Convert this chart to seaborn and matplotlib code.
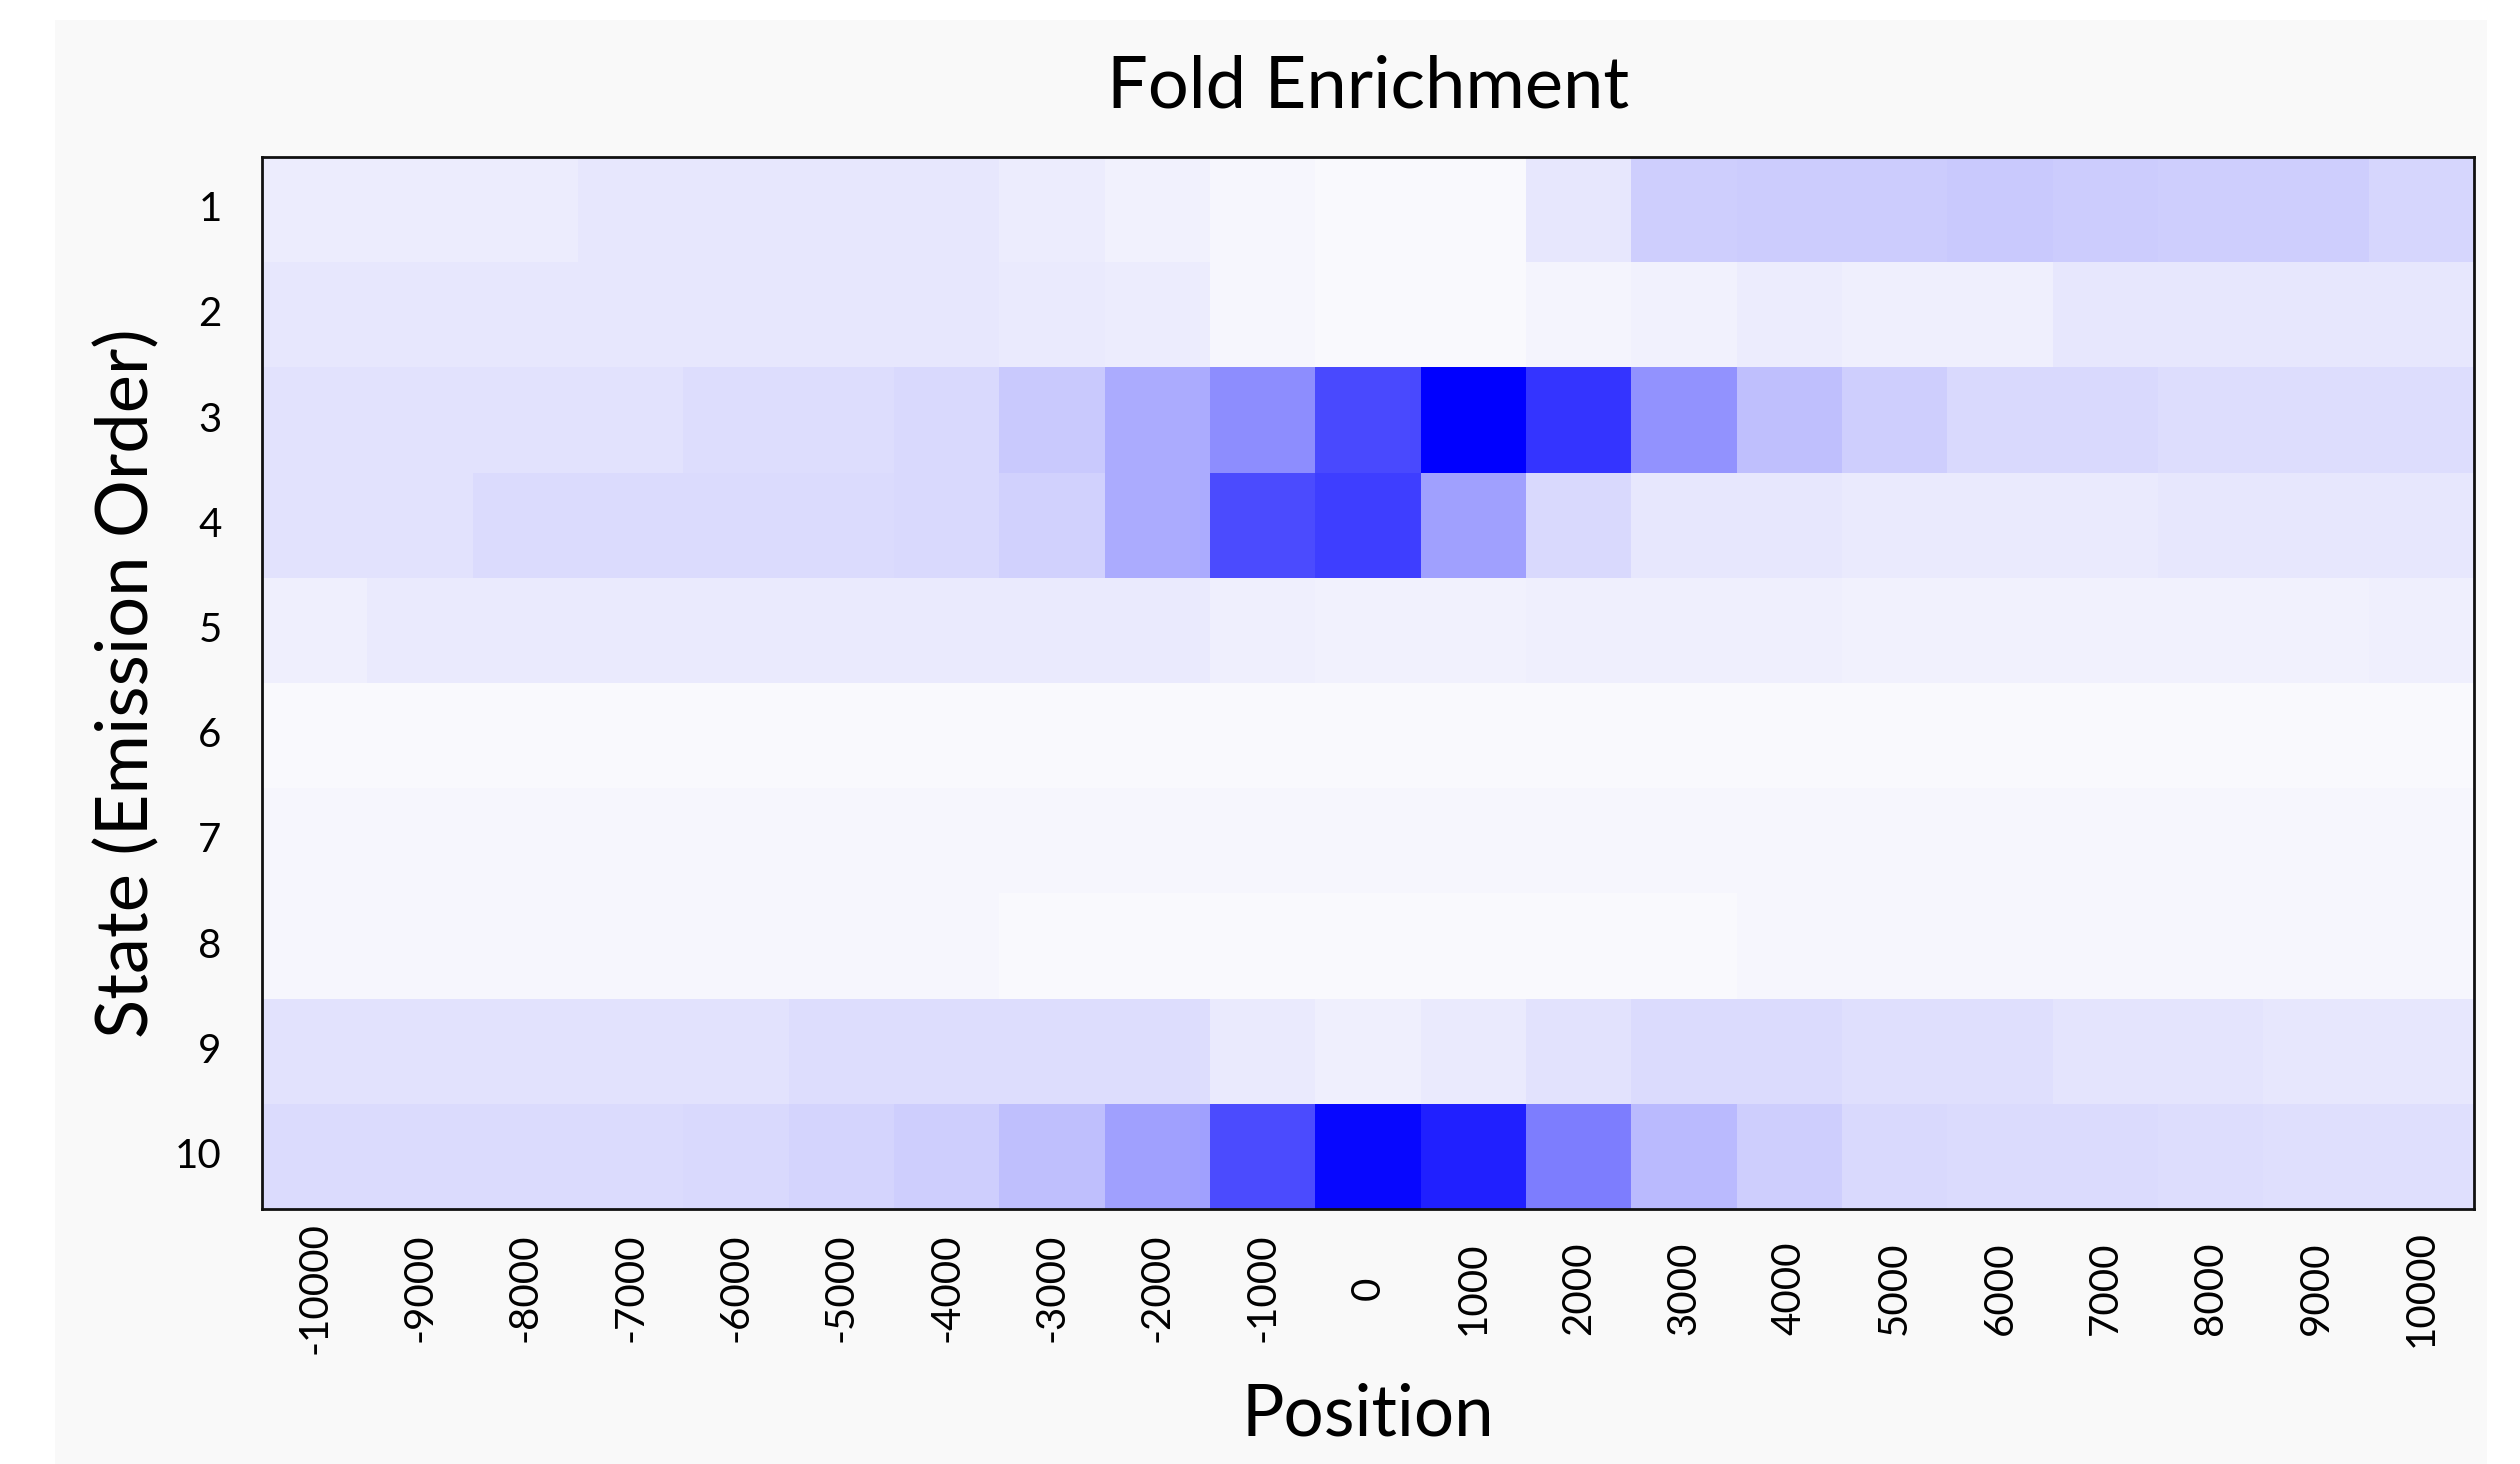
import numpy as np
import pandas as pd
import matplotlib
matplotlib.use("Agg")
import matplotlib.pyplot as plt
from matplotlib.colors import LinearSegmentedColormap
from matplotlib.patches import Rectangle
import seaborn as sns

# ---- data (relative fold enrichment, 0 = none, 1 = max) ----
positions = list(range(-10000, 10001, 1000))
states = [1, 2, 3, 4, 5, 6, 7, 8, 9, 10]

state1 = [0.06, 0.06, 0.06, 0.08, 0.08, 0.08, 0.08, 0.06, 0.04, 0.02, 0.01,
          0.01, 0.08, 0.18, 0.19, 0.19, 0.20, 0.19, 0.18, 0.18, 0.15]
state2 = [0.08, 0.08, 0.08, 0.08, 0.08, 0.08, 0.08, 0.07, 0.06, 0.02, 0.01,
          0.01, 0.03, 0.04, 0.06, 0.05, 0.05, 0.08, 0.08, 0.08, 0.08]
state3 = [0.10, 0.10, 0.10, 0.10, 0.12, 0.12, 0.14, 0.20, 0.32, 0.44, 0.71,
          1.00, 0.79, 0.42, 0.24, 0.18, 0.14, 0.14, 0.12, 0.12, 0.12]
state4 = [0.10, 0.10, 0.13, 0.13, 0.13, 0.13, 0.14, 0.17, 0.32, 0.70, 0.75,
          0.36, 0.14, 0.08, 0.08, 0.07, 0.07, 0.07, 0.08, 0.08, 0.08]
state5 = [0.05, 0.07, 0.07, 0.07, 0.07, 0.07, 0.07, 0.07, 0.07, 0.05, 0.04,
          0.04, 0.05, 0.05, 0.05, 0.04, 0.04, 0.04, 0.04, 0.04, 0.05]
state6 = [0.01, 0.01, 0.01, 0.01, 0.01, 0.01, 0.01, 0.01, 0.01, 0.01, 0.01,
          0.01, 0.01, 0.01, 0.01, 0.01, 0.01, 0.01, 0.01, 0.01, 0.01]
state7 = [0.02, 0.02, 0.02, 0.02, 0.02, 0.02, 0.02, 0.02, 0.02, 0.02, 0.02,
          0.02, 0.02, 0.02, 0.02, 0.02, 0.02, 0.02, 0.02, 0.02, 0.02]
state8 = [0.02, 0.02, 0.02, 0.02, 0.02, 0.02, 0.02, 0.01, 0.01, 0.01, 0.01,
          0.01, 0.01, 0.01, 0.02, 0.02, 0.02, 0.02, 0.02, 0.02, 0.02]
state9 = [0.10, 0.10, 0.10, 0.10, 0.10, 0.12, 0.12, 0.12, 0.12, 0.07, 0.05,
          0.07, 0.10, 0.13, 0.13, 0.11, 0.11, 0.09, 0.09, 0.08, 0.08]
state10 = [0.13, 0.13, 0.13, 0.13, 0.14, 0.16, 0.18, 0.24, 0.36, 0.70, 0.97,
           0.87, 0.50, 0.26, 0.18, 0.14, 0.13, 0.13, 0.12, 0.11, 0.11]

title = "Fold Enrichment"
xlabel = "Position"
ylabel = "State (Emission Order)"

data = pd.DataFrame([state1, state2, state3, state4, state5, state6,
                     state7, state8, state9, state10],
                    index=states, columns=positions)

# ---- style ----
sns.set_style("white")
plt.rcParams["font.family"] = ["Lato", "DejaVu Sans"]
plt.rcParams["text.color"] = "black"
plt.rcParams["axes.labelcolor"] = "black"
plt.rcParams["xtick.color"] = "black"
plt.rcParams["ytick.color"] = "black"

W, H = 2520, 1464
fig = plt.figure(figsize=(W / 100, H / 100), dpi=100, facecolor="white")
fig.patches.append(Rectangle((55 / W, 0), (2487 - 55) / W, 1 - 20 / H,
                             transform=fig.transFigure, facecolor="#f9f9f9",
                             edgecolor="none", zorder=-10))

ax = fig.add_axes([262 / W, 1 - 1209 / H, (2474 - 262) / W, (1209 - 157) / H])

cmap = LinearSegmentedColormap.from_list("wb", ["#fbfbfd", "#0000ff"])
sns.heatmap(data, ax=ax, cmap=cmap, vmin=0, vmax=1, cbar=False,
            linewidths=0, square=False)

for s in ax.spines.values():
    s.set_visible(True)
    s.set_color("#111111")
    s.set_linewidth(2.0)

ax.set_xticks(np.arange(len(positions)) + 0.5)
ax.set_xticklabels([str(p) for p in positions], rotation=90,
                   va="center", ha="center", fontsize=29, color="black")
ax.set_yticks(np.arange(len(states)) + 0.5)
ax.set_yticklabels([str(s) for s in states], rotation=0, fontsize=29,
                   color="black")
ax.tick_params(axis="x", length=0, pad=57)
ax.tick_params(axis="y", length=0, pad=29)

ax.set_title(title, fontsize=52, pad=36, color="black")
ax.set_xlabel(xlabel, fontsize=51, va="top", color="black")
ax.xaxis.set_label_coords(0.5, -0.165)
ax.set_ylabel(ylabel, fontsize=52, color="black")
ax.yaxis.set_label_coords(-0.046, 0.5)

fig.savefig("out.png", dpi=100, facecolor="white")
